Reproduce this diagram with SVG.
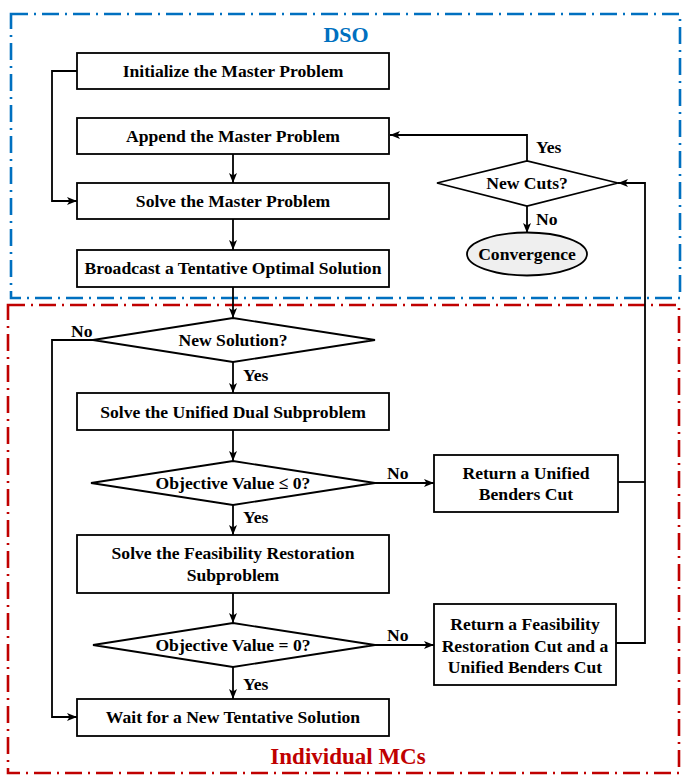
<svg xmlns="http://www.w3.org/2000/svg" width="692" height="784" viewBox="0 0 692 784">
<defs>
<marker id="ah" markerWidth="10" markerHeight="8" refX="10" refY="4" orient="auto" markerUnits="userSpaceOnUse">
<path d="M0,0 L10,4 L0,8 L2.5,4 Z" fill="#000"/>
</marker>
</defs>
<style>
.box{fill:#fff;stroke:#000;stroke-width:1.8}
.t{font-family:"Liberation Serif","Times New Roman",serif;font-weight:bold;font-size:17.6px;text-anchor:middle;fill:#000}
.lbl{font-family:"Liberation Serif","Times New Roman",serif;font-weight:bold;font-size:17.6px;fill:#000}
.c{fill:none;stroke:#000;stroke-width:1.8}
.ca{fill:none;stroke:#000;stroke-width:1.8;marker-end:url(#ah)}
.region{fill:none;stroke-width:2.6;stroke-dasharray:17 6 2 6}
</style>
<rect width="692" height="784" fill="#fff"/>
<g id="dso-region">
<rect class="region" x="11" y="14" width="669" height="284" stroke="#0070C0"/>
<text x="346" y="42" font-family="Liberation Serif,serif" font-weight="bold" font-size="22" fill="#0070C0" text-anchor="middle">DSO</text>
</g>
<g id="mc-region">
<rect class="region" x="8" y="305" width="671" height="468" stroke="#C00000"/>
<text x="348" y="764" font-family="Liberation Serif,serif" font-weight="bold" font-size="23" fill="#C00000" text-anchor="middle">Individual MCs</text>
</g>
<g id="connectors">
<polyline class="ca" points="77,71 52,71 52,201 77,201"/>
<line class="ca" x1="233" y1="154" x2="233" y2="183"/>
<line class="ca" x1="233" y1="219" x2="233" y2="250"/>
<polyline class="ca" points="527,161 527,135 390,135"/>
<line class="ca" x1="527" y1="206" x2="527" y2="233"/>
<line class="ca" x1="233" y1="287" x2="233" y2="318"/>
<polyline class="ca" points="93,340 52,340 52,717 77,717"/>
<line class="ca" x1="233" y1="362" x2="233" y2="393"/>
<line class="ca" x1="233" y1="430" x2="233" y2="461"/>
<line class="ca" x1="375" y1="483" x2="434" y2="483"/>
<line class="ca" x1="233" y1="505" x2="233" y2="535"/>
<line class="ca" x1="233" y1="593" x2="233" y2="623"/>
<line class="ca" x1="375" y1="645" x2="434" y2="645"/>
<line class="ca" x1="233" y1="667" x2="233" y2="699"/>
<polyline class="c" points="618,482 645,482"/>
<polyline class="ca" points="616,643 645,643 645,183 618,183"/>
<text class="lbl" x="536" y="153">Yes</text>
<text class="lbl" x="536" y="225">No</text>
<text class="lbl" x="71" y="337">No</text>
<text class="lbl" x="243" y="381">Yes</text>
<text class="lbl" x="387" y="479">No</text>
<text class="lbl" x="243" y="523">Yes</text>
<text class="lbl" x="387" y="641">No</text>
<text class="lbl" x="243" y="690">Yes</text>
</g>
<g id="init">
<rect class="box" x="77" y="53" width="312" height="36"/>
<text class="t" x="233" y="77">Initialize the Master Problem</text>
</g>
<g id="append">
<rect class="box" x="77" y="118" width="312" height="36"/>
<text class="t" x="233" y="142">Append the Master Problem</text>
</g>
<g id="solve-master">
<rect class="box" x="77" y="183" width="312" height="36"/>
<text class="t" x="233" y="207">Solve the Master Problem</text>
</g>
<g id="broadcast">
<rect class="box" x="77" y="250" width="312" height="37"/>
<text class="t" x="233" y="274">Broadcast a Tentative Optimal Solution</text>
</g>
<g id="new-cuts">
<polygon class="box" points="437,183 527,161 618,183 527,206"/>
<text class="t" x="527" y="189">New Cuts?</text>
</g>
<g id="convergence">
<ellipse cx="527" cy="254" rx="60" ry="21.5" fill="#efefef" stroke="#000" stroke-width="1.8"/>
<text class="t" x="527" y="260">Convergence</text>
</g>
<g id="new-solution">
<polygon class="box" points="93,340 233,318 375,340 233,362"/>
<text class="t" x="233" y="346">New Solution?</text>
</g>
<g id="solve-dual">
<rect class="box" x="77" y="393" width="312" height="37"/>
<text class="t" x="233" y="418">Solve the Unified Dual Subproblem</text>
</g>
<g id="obj-le">
<polygon class="box" points="91,483 233,461 375,483 233,505"/>
<text class="t" x="233" y="489">Objective Value ≤ 0?</text>
</g>
<g id="return-unified">
<rect class="box" x="434" y="455" width="184" height="57"/>
<text class="t" x="526" y="479">Return a Unified</text>
<text class="t" x="526" y="500">Benders Cut</text>
</g>
<g id="solve-feas">
<rect class="box" x="77" y="535" width="312" height="58"/>
<text class="t" x="233" y="559">Solve the Feasibility Restoration</text>
<text class="t" x="233" y="581">Subproblem</text>
</g>
<g id="obj-eq">
<polygon class="box" points="93,645 233,623 375,645 233,667"/>
<text class="t" x="233" y="651">Objective Value = 0?</text>
</g>
<g id="return-feas">
<rect class="box" x="434" y="604" width="182" height="81"/>
<text class="t" x="525" y="630">Return a Feasibility</text>
<text class="t" x="525" y="652">Restoration Cut and a</text>
<text class="t" x="525" y="673">Unified Benders Cut</text>
</g>
<g id="wait">
<rect class="box" x="77" y="699" width="312" height="37"/>
<text class="t" x="233" y="723">Wait for a New Tentative Solution</text>
</g>
</svg>
